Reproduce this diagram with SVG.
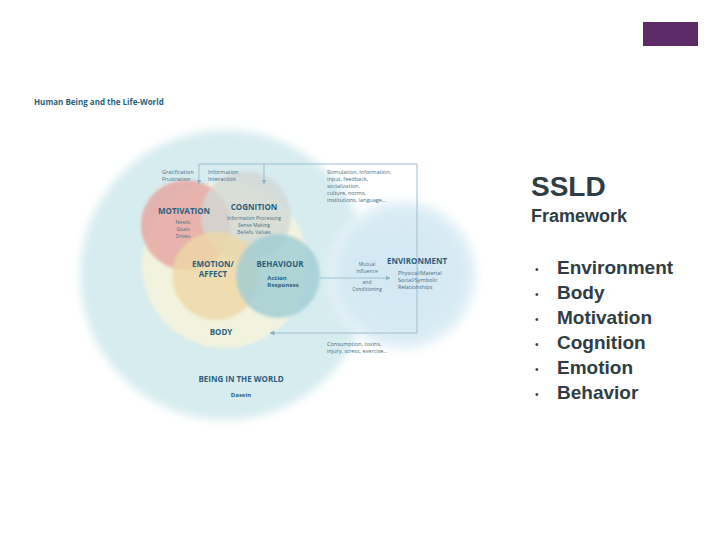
<svg xmlns="http://www.w3.org/2000/svg" width="720" height="540" viewBox="0 0 720 540">
<defs>
<filter id="soft" x="-20%" y="-20%" width="140%" height="140%"><feGaussianBlur stdDeviation="4"/></filter>
<filter id="soft2" x="-20%" y="-20%" width="140%" height="140%"><feGaussianBlur stdDeviation="1.5"/></filter>
<marker id="ah" viewBox="0 0 10 10" refX="9" refY="5" markerWidth="5" markerHeight="5" orient="auto"><path d="M0,0 L10,5 L0,10 z" fill="#8fb3c4"/></marker>
<radialGradient id="env" cx="0.5" cy="0.5" r="0.5"><stop offset="0" stop-color="#cfe6f3"/><stop offset="0.8" stop-color="#d6eaf4"/><stop offset="1" stop-color="#e8f3f8"/></radialGradient>
</defs>
<style>
.h{font-family:"Open Sans","Liberation Sans",sans-serif;font-weight:bold;fill:#2b5f7e;text-anchor:middle}
.s{font-family:"Open Sans","Liberation Sans",sans-serif;fill:#4d6e80;font-size:5.5px}
.sm{font-family:"Open Sans","Liberation Sans",sans-serif;fill:#4d6e80;font-size:5px;text-anchor:middle}
.r{font-family:"Liberation Sans",Arial,sans-serif;font-weight:bold;fill:#2f3d45}
.line{stroke:#9ebfcf;stroke-width:1;fill:none}
</style>
<rect width="720" height="540" fill="#ffffff"/>
<rect x="643" y="22" width="55" height="24" fill="#5c2b68"/>
<text x="34" y="105" font-family="'Open Sans','Liberation Sans',sans-serif" font-weight="bold" font-size="8" fill="#2b5f7e">Human Being and the Life-World</text>
<g id="world"><circle cx="225" cy="275" r="145" fill="#d7ecef" filter="url(#soft)"/></g>
<g id="environment"><circle cx="402" cy="275" r="75" fill="url(#env)" filter="url(#soft)" opacity="0.95"/></g>
<g id="body"><circle cx="225" cy="265" r="83" fill="#f1f3df" filter="url(#soft2)"/></g>
<g id="motivation"><circle cx="186" cy="225" r="45" fill="#e6a9a4" opacity="0.85" filter="url(#soft2)"/></g>
<g id="cognition"><circle cx="246" cy="216" r="45" fill="#d3d9d5" opacity="0.8" filter="url(#soft2)"/></g>
<g id="emotion"><circle cx="216" cy="276" r="44" fill="#efd8a6" opacity="0.8" filter="url(#soft2)"/></g>
<g id="behaviour"><circle cx="278" cy="276" r="42" fill="#9fcdd5" opacity="0.8" filter="url(#soft2)"/></g>
<g id="connectors">
<path class="line" d="M417,333 L417,164 L199,164 L199,184" marker-end="url(#ah)"/>
<path class="line" d="M264,164 L264,184" marker-end="url(#ah)"/>
<path class="line" d="M417,333 L270,333" marker-end="url(#ah)"/>
<path class="line" d="M320,278 L390,278" marker-end="url(#ah)"/>
</g>
<g id="environment-label"><text class="h" x="417" y="264" font-size="8">ENVIRONMENT</text>
<text class="s" x="398" y="275">Physical/Material</text><text class="s" x="398" y="282">Social/Symbolic</text><text class="s" x="398" y="289">Relationships</text></g>
<g id="body-label"><text class="h" x="221" y="335" font-size="8">BODY</text></g>
<g id="motivation-label"><text class="h" x="184" y="214" font-size="8">MOTIVATION</text>
<text class="sm" x="183" y="224">Needs</text><text class="sm" x="183" y="231">Goals</text><text class="sm" x="183" y="238">Drives</text></g>
<g id="cognition-label"><text class="h" x="254" y="210" font-size="8">COGNITION</text>
<text class="sm" x="254" y="220">Information Processing</text><text class="sm" x="254" y="227">Sense Making</text><text class="sm" x="254" y="234">Beliefs, Values</text></g>
<g id="emotion-label"><text class="h" x="213" y="267" font-size="8">EMOTION/</text><text class="h" x="213" y="277" font-size="8">AFFECT</text></g>
<g id="behaviour-label"><text class="h" x="280" y="267" font-size="8">BEHAVIOUR</text>
<text class="h" x="277" y="280" font-size="6">Action</text><text class="h" x="283" y="287" font-size="6">Responses</text></g>
<g id="being"><text class="h" x="241" y="382" font-size="8">BEING IN THE WORLD</text><text class="h" x="241" y="397" font-size="6">Dasein</text></g>
<g id="labels">
<text class="s" x="162" y="174">Gratification</text><text class="s" x="162" y="181">Frustration</text>
<text class="s" x="208" y="174">Information</text><text class="s" x="208" y="181">Interaction</text>
<text class="s" x="327" y="174">Stimulation, information,</text><text class="s" x="327" y="181">input, feedback,</text><text class="s" x="327" y="188">socialization,</text><text class="s" x="327" y="195">culture, norms,</text><text class="s" x="327" y="202">institutions, language...</text>
<text class="sm" x="367" y="266">Mutual</text><text class="sm" x="367" y="273">influence</text><text class="sm" x="367" y="284">and</text><text class="sm" x="367" y="291">Conditioning</text>
<text class="s" x="327" y="346">Consumption, toxins,</text><text class="s" x="327" y="353">injury, stress, exercise...</text>
</g>
<g id="panel">
<text class="r" x="531" y="196" font-size="28">SSLD</text>
<text class="r" x="531" y="222" font-size="18">Framework</text>
<g font-family="'Liberation Sans',Arial,sans-serif" font-size="10" fill="#2f3d45"><text x="535" y="273">•</text><text x="535" y="298">•</text><text x="535" y="323">•</text><text x="535" y="348">•</text><text x="535" y="373">•</text><text x="535" y="398">•</text></g>
<text class="r" x="557" y="274" font-size="19">Environment</text>
<text class="r" x="557" y="299" font-size="19">Body</text>
<text class="r" x="557" y="324" font-size="19">Motivation</text>
<text class="r" x="557" y="349" font-size="19">Cognition</text>
<text class="r" x="557" y="374" font-size="19">Emotion</text>
<text class="r" x="557" y="399" font-size="19">Behavior</text>
</g>
</svg>
